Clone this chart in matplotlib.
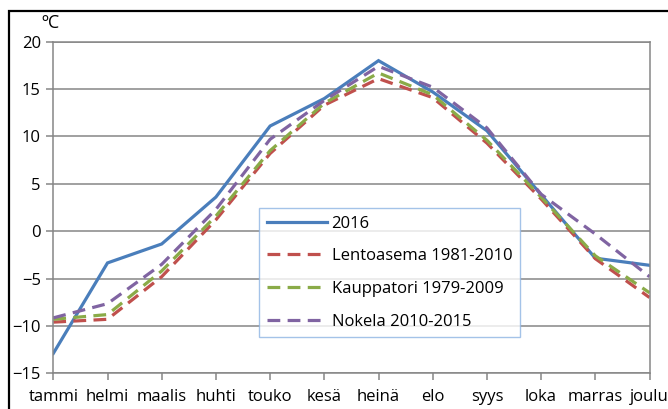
import matplotlib
matplotlib.use("Agg", force=True)
import matplotlib.pyplot as plt
from matplotlib.patches import Rectangle

months = ["tammi", "helmi", "maalis", "huhti", "touko", "kesä",
          "heinä", "elo", "syys", "loka", "marras", "joulu"]

t_2016 = [-12.9, -3.35, -1.35, 3.6, 11.1, 14.0, 18.0, 14.7, 10.6, 3.85, -2.85, -3.6]
lentoasema = [-9.6, -9.3, -4.8, 1.2, 8.2, 13.3, 16.1, 14.1, 9.3, 3.4, -2.9, -7.0]
kauppatori = [-9.3, -8.8, -4.2, 1.6, 8.5, 13.5, 16.7, 14.4, 9.6, 3.6, -2.6, -6.5]
nokela = [-9.15, -7.65, -3.5, 2.3, 9.7, 13.8, 17.4, 15.2, 10.9, 3.9, -0.3, -4.8]

series = [
    ("2016", t_2016, "#4a7ebb", "-"),
    ("Lentoasema 1981-2010", lentoasema, "#c0504d", (0, (4, 2.3))),
    ("Kauppatori 1979-2009", kauppatori, "#8aab48", (0, (4, 2.3))),
    ("Nokela 2010-2015", nokela, "#8064a2", (0, (4, 2.3))),
]

plt.rcParams['font.family'] = ['Open Sans', 'DejaVu Sans']

fig = plt.figure(figsize=(6.68, 4.09), dpi=100)
ax = fig.add_axes([53.3 / 668, 1 - 373.3 / 409, (649.5 - 53.3) / 668, (373.3 - 41.7) / 409])

x = list(range(len(months)))
for label, vals, color, ls in series:
    ax.plot(x, vals, color=color, lw=2.3, linestyle=ls, label=label,
            solid_joinstyle='miter', dash_capstyle='butt')

ax.set_xlim(0, 11)
ax.set_ylim(-15, 20)
ax.set_yticks(range(-15, 21, 5))
ax.set_xticks(x)
ax.set_xticklabels(months)
ax.yaxis.grid(True, color='#868686', lw=1.1)
ax.set_axisbelow(True)
for s in ax.spines.values():
    s.set_color('#868686')
    s.set_linewidth(1.1)
ax.tick_params(axis='both', colors='#868686', length=5, width=1.1,
               labelcolor='black', labelsize=12)
ax.tick_params(axis='x', pad=6)
ax.tick_params(axis='y', pad=4)

ax.text(-0.22, 21.0, "ºC", fontsize=13, ha='left', va='bottom')

leg = ax.legend(loc='upper left', bbox_to_anchor=((259 - 53.3) / 596.2, (373.3 - 208) / 331.6),
                fontsize=12, frameon=True, fancybox=False, handlelength=3.6,
                borderpad=0.45, labelspacing=1.0, handletextpad=0.3,
                borderaxespad=0)
leg.get_frame().set_edgecolor('#8eb4e3')
leg.get_frame().set_linewidth(1.0)

fig.patches.append(Rectangle((9 / 668, -0.1), 1.2, 1 - 11 / 409 + 0.1,
                             transform=fig.transFigure, fill=False,
                             edgecolor='black', lw=1.6))

fig.savefig("out.png", dpi=100)
